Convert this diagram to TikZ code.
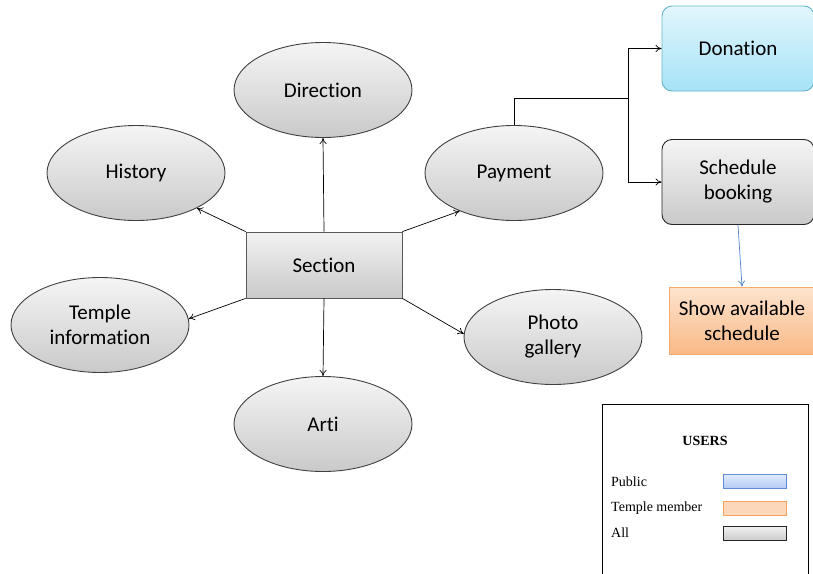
\documentclass[tikz,border=0pt]{standalone}
\usepackage{fontspec}
\setmainfont{Carlito}[Ligatures=NoCommon]
\newfontfamily\legfont{Liberation Serif}
\usetikzlibrary{shapes.geometric,arrows.meta}
\definecolor{ellborder}{HTML}{404040}
\tikzset{
  mainfont/.style={font=\fontsize{21}{25}\selectfont},
  ell/.style={ellipse, draw=ellborder, line width=0.9pt, minimum width=178pt, minimum height=95pt, inner sep=0pt,
     top color=gray!8, bottom color=gray!42, align=center, mainfont},
  secbox/.style={rectangle, draw=gray!70!black, line width=0.8pt, minimum width=156pt, minimum height=66pt,
     top color=gray!10, bottom color=gray!42, mainfont},
  rbox/.style={rectangle, rounded corners=10pt, line width=0.9pt, minimum width=152pt, minimum height=85pt, align=center,
     mainfont},
  conn/.style={draw=black, line width=0.7pt, -{To[length=6pt,width=7pt]}},
  legsw/.style={rectangle, minimum width=63pt, minimum height=14pt, line width=0.9pt, inner sep=0pt},
  legtxt/.style={anchor=west, font=\legfont\fontsize{14}{16}\selectfont, inner sep=0pt},
}
\begin{document}
\begin{tikzpicture}[x=1pt,y=-1pt]
\useasboundingbox (0,0) rectangle (813,573);
% ellipses
\node[ell] (dir) at (323,90) {Direction};
\node[ell] (hist) at (136,173) {History};
\node[ell] (pay) at (514,173) {Payment};
\node[ell] (temple) at (100,325) {Temple\\information};
\node[ell] (photo) at (553,337) {Photo\\gallery};
\node[ell] (arti) at (323,424) {Arti};
\node[secbox] (sec) at (324,265) {Section};
% right boxes
\node[rbox, draw={rgb,255:red,100;green,180;blue,200}, top color={rgb,255:red,226;green,246;blue,253}, bottom color={rgb,255:red,166;green,226;blue,246}] (don) at (738,48.5) {Donation};
\node[rbox, draw=black!85, top color=gray!8, bottom color=gray!42] (sched) at (738,182) {Schedule\\booking};
\node[rectangle, draw={rgb,255:red,245;green,170;blue,110}, line width=0.8pt, minimum width=145pt, minimum height=67pt, align=center,
  top color={rgb,255:red,253;green,228;blue,206}, bottom color={rgb,255:red,249;green,185;blue,135},
  mainfont] (show) at (742,320.5) {Show available\\schedule};
% connectors from section
\draw[conn] (sec.north) -- (dir.south);
\draw[conn] (sec.north west) -- (hist.-30);
\draw[conn] (sec.north east) -- (pay.215);
\draw[conn] (sec.south west) -- (temple.4);
\draw[conn] (sec.south east) -- (photo.178);
\draw[conn] (sec.south) -- (arti.north);
% payment branch
\coordinate (j1) at (514,98);
\coordinate (j2) at (628,98);
\draw[line width=0.7pt] (pay.north) -- (j1) -- (j2);
\draw[conn] (j2) |- (don.west);
\draw[conn] (j2) |- (sched.west);
\draw[draw={rgb,255:red,80;green,130;blue,200}, line width=0.7pt, -{To[length=6pt,width=7pt]}] (sched.south) -- (show.north);
% legend
\node[draw=black, line width=1pt, minimum width=206pt, minimum height=172pt, anchor=north west] (leg) at (602,404) {};
\node[font=\legfont\bfseries\fontsize{14}{16}\selectfont] (users) at (705,441) {USERS};
\node[legtxt] (lpub) at (611,482) {Public};
\node[legtxt] (ltem) at (611,508) {Temple member};
\node[legtxt] (lall) at (611,533) {All};
\node[legsw, draw={rgb,255:red,95;green,140;blue,215}, top color={rgb,255:red,225;green,235;blue,252}, bottom color={rgb,255:red,180;green,205;blue,245}] (spub) at (754.5,481) {};
\node[legsw, draw={rgb,255:red,243;green,163;blue,95}, fill={rgb,255:red,252;green,215;blue,185}] (stem) at (754.5,508) {};
\node[legsw, draw=black!85, top color=gray!10, bottom color=gray!40] (sall) at (754.5,533) {};
\end{tikzpicture}
\end{document}
